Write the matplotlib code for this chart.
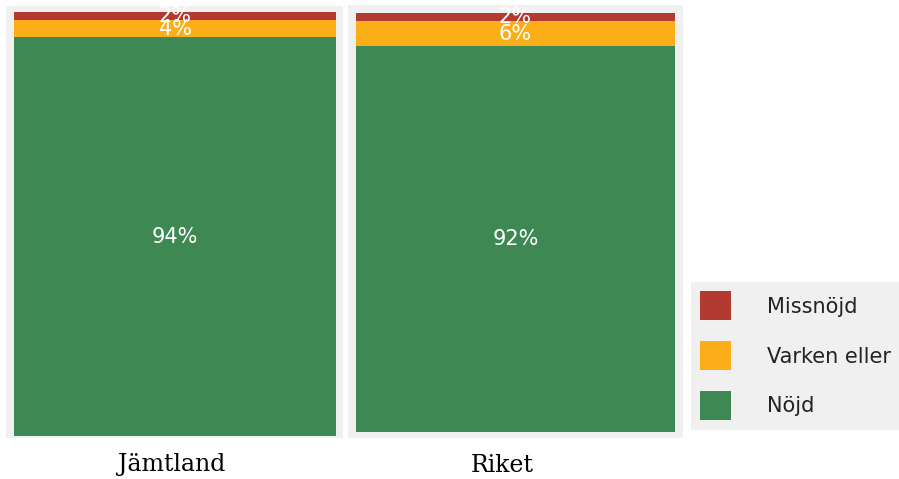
import matplotlib.pyplot as plt
from matplotlib.patches import Patch

# data
regioner = ['Jämtland', 'Riket']
nojd = [94, 92]
varken = [4, 6]
missnojd = [2, 2]

serier = ['Missnöjd', 'Varken eller', 'Nöjd']
farger = {'Missnöjd': '#B23A30', 'Varken eller': '#FBAE17', 'Nöjd': '#3D8853'}

W, H = 899, 479
fig = plt.figure(figsize=(W / 100, H / 100), dpi=100)

# panel pixel boxes (left, top, right, bottom) och stapel inom panel
paneler = [(6, 6, 343, 438), (348, 5, 683, 438)]
staplar = [(14, 11.7, 336, 436), (356, 12.7, 675, 432)]
etikett_x = [172, 502]

for i, namn in enumerate(regioner):
    pl, pt, pr, pb = paneler[i]
    bl, bt, br, bb = staplar[i]
    ax = fig.add_axes([pl / W, 1 - pb / H, (pr - pl) / W, (pb - pt) / H])
    ax.set_facecolor('#F0F0F0')
    pw = pr - pl
    ax.set_xlim(0, pw)
    scale = (bb - bt) / 100.0
    ax.set_ylim(-(pb - bb) / scale, 100 + (bt - pt) / scale)
    x = (bl - pl + br - pl) / 2
    bw = br - bl
    bott = 0
    for s, v in zip(['Nöjd', 'Varken eller', 'Missnöjd'],
                    [nojd[i], varken[i], missnojd[i]]):
        ax.bar(x, v, width=bw, bottom=bott, color=farger[s],
               edgecolor='none')
        ax.text(x, bott + v / 2, f'{v}%', color='white', ha='center',
                va='center', fontsize=15, family='DejaVu Sans')
        bott += v
    ax.set_xticks([])
    ax.set_yticks([])
    for sp in ax.spines.values():
        sp.set_visible(False)
    fig.text(etikett_x[i] / W, 1 - 465 / H, namn, ha='center', va='center',
             fontsize=17, family='DejaVu Serif')

handles = [Patch(facecolor=farger[s], edgecolor='none') for s in serier]
leg = fig.legend(handles, serier, loc='upper left',
                 bbox_to_anchor=(691 / W, 1 - 282 / H), borderaxespad=0,
                 fontsize=15, handlelength=1.45, handleheight=1.77,
                 handletextpad=1.75, labelspacing=1.0, borderpad=0.45,
                 frameon=True, fancybox=False)
leg.get_frame().set_facecolor('#F0F0F0')
leg.get_frame().set_edgecolor('none')
leg.get_frame().set_alpha(1)
for t in leg.get_texts():
    t.set_color('#222222')

fig.savefig('out.png', dpi=100)
